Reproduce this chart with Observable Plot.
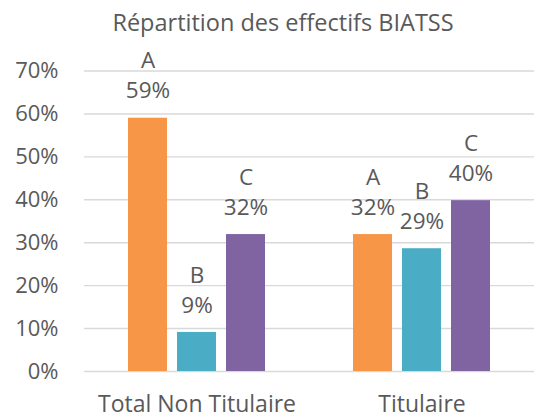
<!DOCTYPE html>
<html>
<head>
<meta charset="utf-8">
<script src="https://cdn.jsdelivr.net/npm/d3@7"></script>
<script src="https://cdn.jsdelivr.net/npm/@observablehq/plot@0.6"></script>
<style>
  html, body { margin: 0; padding: 0; background: #fff; }
  #title { width: 534px; height: 40px; box-sizing: border-box; padding-top: 7px; padding-left: 32px;
           text-align: center; font-family: "Open Sans", sans-serif; font-size: 23.5px; line-height: 30px; color: #595959; }
</style>
</head>
<body>
<div id="title">Répartition des effectifs BIATSS</div>
<div id="chart"></div>
<script>
const categories = ["Total Non Titulaire", "Titulaire"];
const series = ["A", "B", "C"];
const seriesA = [0.590, 0.319];
const seriesB = [0.091, 0.286];
const seriesC = [0.319, 0.398];
const colors = ["#F79646", "#4BACC6", "#8064A2"];
const yTicks = [0, 0.1, 0.2, 0.3, 0.4, 0.5, 0.6, 0.7];

const seriesValues = [seriesA, seriesB, seriesC];
const data = [];
categories.forEach((c, i) => series.forEach((s, j) => data.push({group: c, series: s, value: seriesValues[j][i]})));

const fmt = d3.format(".0%");
const textColor = "#595959";

const chart = Plot.plot({
  width: 534,
  height: 374,
  marginLeft: 83,
  marginRight: 0,
  marginTop: 30.5,
  marginBottom: 43,
  style: {fontFamily: "Open Sans", fontSize: "22px", color: textColor, background: "white"},
  fx: {domain: categories, padding: 0, label: null},
  x: {domain: series, paddingInner: 0.214, paddingOuter: 0.86, axis: null},
  y: {domain: [0, 0.7], label: null},
  color: {domain: series, range: colors},
  marks: [
    Plot.gridY(yTicks, {stroke: "#d9d9d9", strokeOpacity: 1, strokeWidth: 1.4}),
    Plot.axisY(yTicks, {tickFormat: fmt, tickSize: 0, tickPadding: 26, fontSize: 22, label: null, fill: textColor}),
    Plot.axisFx({anchor: "bottom", tickSize: 0, tickPadding: 24, fontSize: 23, label: null, fill: textColor}),
    Plot.barY(data, {fx: "group", x: "series", y: "value", fill: "series"}),
    Plot.text(data, {fx: "group", x: "series", y: "value", text: d => fmt(d.value), dy: -27, fontSize: 22.5, fill: textColor}),
    Plot.text(data, {fx: "group", x: "series", y: "value", text: "series", dy: -57, fontSize: 22.5, fill: textColor})
  ]
});
document.getElementById("chart").appendChild(chart);
</script>
</body>
</html>
